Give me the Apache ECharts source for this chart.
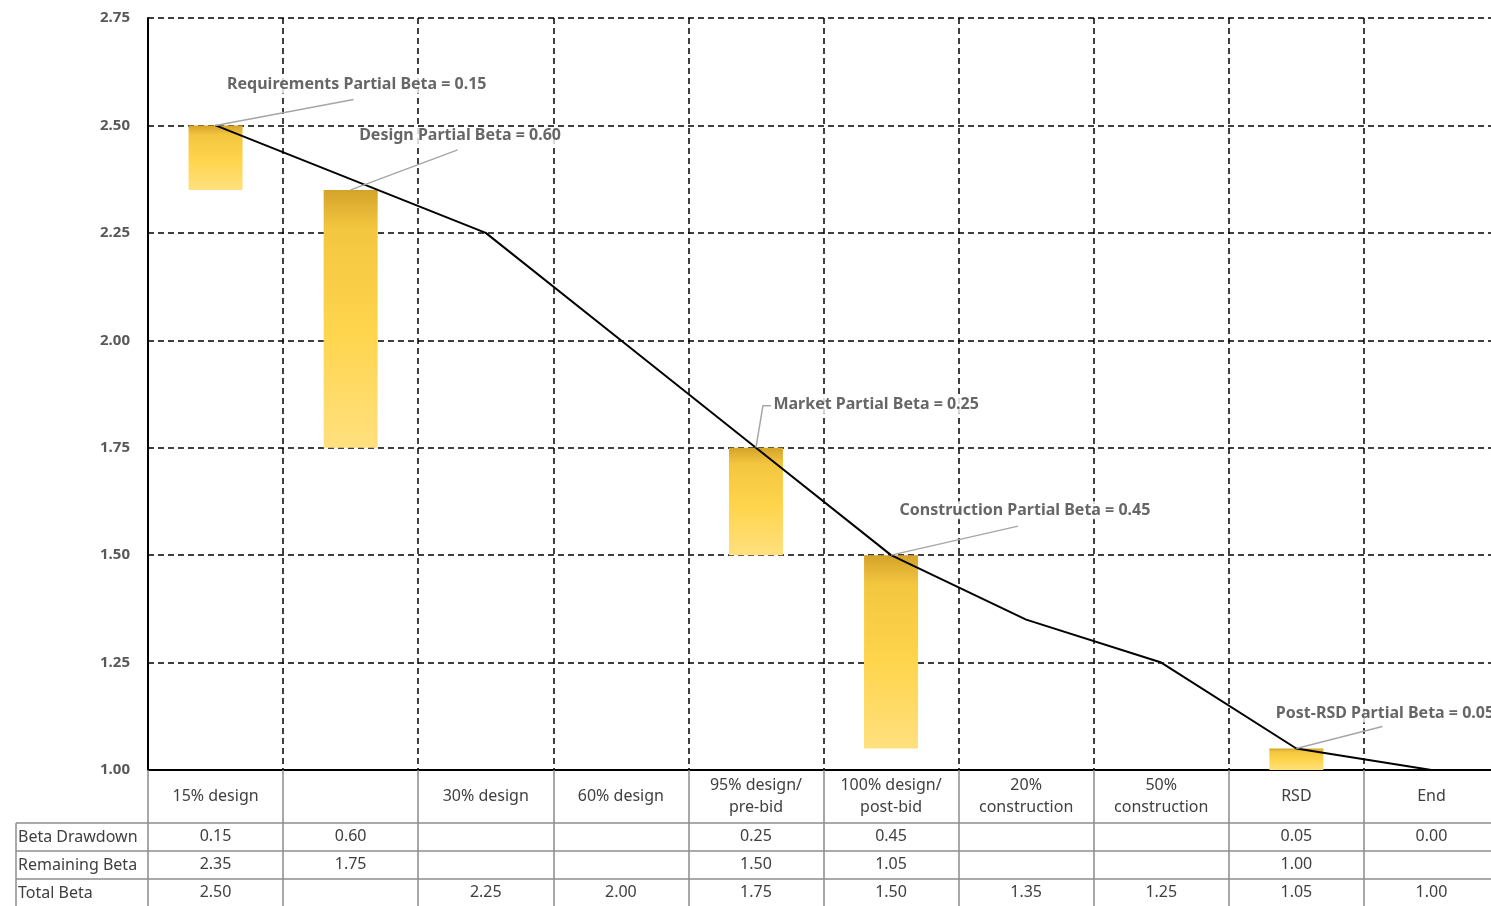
<!DOCTYPE html>
<html>
<head>
<meta charset="utf-8">
<script src="https://cdn.jsdelivr.net/npm/echarts@6/dist/echarts.min.js"></script>
<style>
  html, body { margin: 0; padding: 0; background: #fff; }
  #chart { width: 1491px; height: 906px; }
</style>
</head>
<body>
<div id="chart"></div>
<script>
// data
var categories = ["15% design", "", "30% design", "60% design", "95% design/\npre-bid",
  "100% design/\npost-bid", "20%\nconstruction", "50%\nconstruction", "RSD", "End"];
var betaDrawdown = [0.15, 0.60, null, null, 0.25, 0.45, null, null, 0.05, 0.00];
var remainingBeta = [2.35, 1.75, null, null, 1.50, 1.05, null, null, 1.00, null];
var totalBeta = [2.50, null, 2.25, 2.00, 1.75, 1.50, 1.35, 1.25, 1.05, 1.00];
var partialNames = ["Requirements", "Design", null, null, "Market", "Construction", null, null, "Post-RSD", null];
var rowLabels = ["Beta Drawdown", "Remaining Beta", "Total Beta"];
var yTicks = { min: 1.00, max: 2.75, step: 0.25 };

// annotation layout: text offset and leader line bends (pixels from the point)
var labelOffsets = {
  0: { text: [11, -41], line: [[138, -26]] },
  1: { text: [8, -54], line: [[107, -40]] },
  4: { text: [17, -43], line: [[7, -42], [15, -42]] },
  5: { text: [8, -45], line: [[127, -29]] },
  8: { text: [-21, -35], line: [[86, -22]] }
};

var FONT = "Noto Sans";
var TXT = "#404040";
var TABLE_LINE = "#8c8c8c";

function fmt(v) {
  return v == null ? "" : v.toFixed(2);
}

var barBase = remainingBeta.map(function (v) { return v == null ? "-" : v; });
var barTop = remainingBeta.map(function (v, i) { return v == null ? "-" : betaDrawdown[i]; });

var notes = [];
partialNames.forEach(function (n, i) {
  if (n) {
    notes.push({
      value: [i, +(remainingBeta[i] + betaDrawdown[i]).toFixed(2)],
      name: n + " Partial Beta = " + fmt(betaDrawdown[i])
    });
  }
});

var chart = echarts.init(document.getElementById("chart"));

function rowAxis(values, margin) {
  return {
    type: "category",
    data: categories,
    position: "bottom",
    axisLine: { show: false },
    axisTick: { show: false },
    splitLine: { show: false },
    axisLabel: {
      interval: 0,
      margin: margin,
      verticalAlign: "middle",
      fontFamily: FONT,
      fontSize: 16,
      color: TXT,
      formatter: function (v, i) { return fmt(values[i]); }
    }
  };
}

var tableTop = 770, rowH = 28;

chart.setOption({
  animation: false,
  grid: { left: 148, top: 18, bottom: 136, right: -8, containLabel: false, outerBoundsMode: "none" },
  xAxis: [
    {
      type: "category",
      data: categories,
      position: "bottom",
      axisLine: { lineStyle: { color: "#000", width: 2 } },
      axisTick: { show: true, length: 136, lineStyle: { color: TABLE_LINE, width: 1.5 } },
      splitLine: { show: true, lineStyle: { color: "#000", width: 1.5, type: [6, 4] } },
      axisLabel: {
        interval: 0,
        margin: 26,
        verticalAlign: "middle",
        lineHeight: 22,
        fontFamily: FONT,
        fontSize: 16,
        color: TXT
      }
    },
    rowAxis(betaDrawdown, 66),
    rowAxis(remainingBeta, 94),
    rowAxis(totalBeta, 122)
  ],
  yAxis: {
    type: "value",
    min: yTicks.min,
    max: yTicks.max,
    interval: yTicks.step,
    axisLine: { show: true, lineStyle: { color: "#000", width: 2 } },
    axisTick: { show: false },
    splitLine: { lineStyle: { color: "#000", width: 1.5, type: [6, 4] } },
    axisLabel: {
      margin: 18,
      fontFamily: FONT,
      fontSize: 15,
      fontWeight: "bold",
      color: "#595959",
      formatter: function (v) { return v.toFixed(2); }
    }
  },
  series: [
    {
      type: "bar",
      stack: "beta",
      barWidth: 54,
      itemStyle: { color: "transparent" },
      data: barBase
    },
    {
      type: "bar",
      stack: "beta",
      barWidth: 54,
      itemStyle: {
        color: new echarts.graphic.LinearGradient(0, 0, 0, 1, [
          { offset: 0, color: "#d4a32a" },
          { offset: 0.15, color: "#f3c63f" },
          { offset: 0.55, color: "#ffd54d" },
          { offset: 1, color: "#ffe07e" }
        ])
      },
      data: barTop
    },
    {
      type: "line",
      data: totalBeta,
      connectNulls: true,
      symbol: "none",
      lineStyle: { color: "#000", width: 2 },
      z: 3
    },
    {
      type: "scatter",
      symbolSize: 1,
      itemStyle: { color: "transparent" },
      data: notes,
      z: 4,
      label: {
        show: true,
        position: "right",
        distance: 0,
        fontFamily: FONT,
        fontSize: 16,
        fontWeight: "bold",
        color: TXT,
        backgroundColor: "#fff",
        padding: [1, 2],
        formatter: function (p) { return p.name; }
      },
      labelLayout: function (p) {
        var o = labelOffsets[notes[p.dataIndex].value[0]].text;
        return { dx: o[0] - 2, dy: o[1] };
      }
    }
  ]
});

// table lines, row titles and leader lines
var graphics = [];
[53, 53 + rowH, 53 + 2 * rowH].forEach(function (d) {
  graphics.push({ type: "line", shape: { x1: 16, y1: tableTop + d, x2: 1491, y2: tableTop + d }, style: { stroke: TABLE_LINE, lineWidth: 1.5 } });
});
graphics.push({ type: "line", shape: { x1: 16, y1: tableTop + 53, x2: 16, y2: 906 }, style: { stroke: TABLE_LINE, lineWidth: 1.5 } });
rowLabels.forEach(function (t, i) {
  graphics.push({
    type: "text",
    left: 18,
    top: tableTop + 54 + i * rowH,
    style: { text: t, fontFamily: FONT, fontSize: 16, fill: TXT, lineHeight: 26, textVerticalAlign: "top" }
  });
});
notes.forEach(function (n) {
  var p = chart.convertToPixel({ gridIndex: 0 }, n.value);
  var pts = [p].concat(labelOffsets[n.value[0]].line.map(function (d) { return [p[0] + d[0], p[1] + d[1]]; }));
  graphics.push({
    type: "polyline",
    z: 100,
    shape: { points: pts },
    style: { stroke: "#a6a6a6", lineWidth: 1.5, fill: null }
  });
});
chart.setOption({ graphic: graphics });
</script>
</body>
</html>
